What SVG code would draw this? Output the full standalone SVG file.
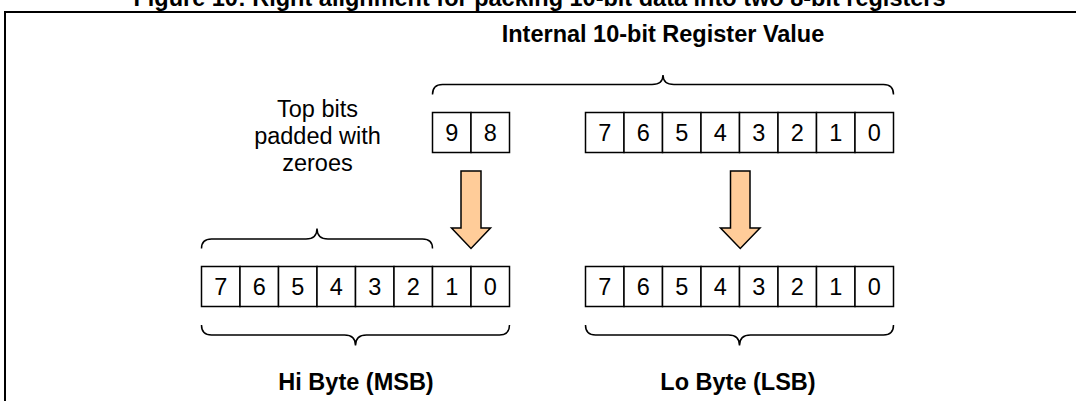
<svg xmlns="http://www.w3.org/2000/svg" width="1076" height="401" viewBox="0 0 1076 401">
<style>
.cell{fill:#fff;stroke:#000;stroke-width:1.5}
.dig{font-family:"Liberation Sans",Arial,sans-serif;font-size:23.5px;text-anchor:middle;fill:#000}
.lbl{font-family:"Liberation Sans",Arial,sans-serif;font-size:23.5px;font-weight:bold;text-anchor:middle;fill:#000}
.txt{font-family:"Liberation Sans",Arial,sans-serif;font-size:23.5px;text-anchor:middle;fill:#000}
.brace{fill:none;stroke:#000;stroke-width:1.5}
.arrow{fill:#FFCC99;stroke:#000;stroke-width:1.5;stroke-linejoin:miter}
.frame{fill:none;stroke:#000;stroke-width:2}
</style>
<rect width="1076" height="401" fill="#fff"/>
<text class="lbl" x="539.5" y="6">Figure 10: Right alignment for packing 10-bit data into two 8-bit registers</text>
<path class="frame" d="M5,401 V12 H1076"/>
<text class="lbl" x="663" y="42">Internal 10-bit Register Value</text>
<g id="note">
<text class="txt" x="317.5" y="116.5">Top bits</text>
<text class="txt" x="317.5" y="143.5">padded with</text>
<text class="txt" x="317.5" y="170.5">zeroes</text>
</g>
<g id="internal-hi">
<rect class="cell" x="432.5" y="112.5" width="38.5" height="40"/>
<rect class="cell" x="471" y="112.5" width="38.5" height="40"/>
<text class="dig" x="451.75" y="140.8">9</text>
<text class="dig" x="490.25" y="140.8">8</text>
</g>
<g id="internal-lo">
<rect class="cell" x="585.5" y="112.5" width="38.5" height="40"/>
<rect class="cell" x="624" y="112.5" width="38.5" height="40"/>
<rect class="cell" x="662.5" y="112.5" width="38.5" height="40"/>
<rect class="cell" x="701" y="112.5" width="38.5" height="40"/>
<rect class="cell" x="739.5" y="112.5" width="38.5" height="40"/>
<rect class="cell" x="778" y="112.5" width="38.5" height="40"/>
<rect class="cell" x="816.5" y="112.5" width="38.5" height="40"/>
<rect class="cell" x="855" y="112.5" width="38.5" height="40"/>
<text class="dig" x="604.75" y="140.8">7</text>
<text class="dig" x="643.25" y="140.8">6</text>
<text class="dig" x="681.75" y="140.8">5</text>
<text class="dig" x="720.25" y="140.8">4</text>
<text class="dig" x="758.75" y="140.8">3</text>
<text class="dig" x="797.25" y="140.8">2</text>
<text class="dig" x="835.75" y="140.8">1</text>
<text class="dig" x="874.25" y="140.8">0</text>
</g>
<g id="hi-byte">
<rect class="cell" x="201.5" y="266.5" width="38.5" height="40"/>
<rect class="cell" x="240" y="266.5" width="38.5" height="40"/>
<rect class="cell" x="278.5" y="266.5" width="38.5" height="40"/>
<rect class="cell" x="317" y="266.5" width="38.5" height="40"/>
<rect class="cell" x="355.5" y="266.5" width="38.5" height="40"/>
<rect class="cell" x="394" y="266.5" width="38.5" height="40"/>
<rect class="cell" x="432.5" y="266.5" width="38.5" height="40"/>
<rect class="cell" x="471" y="266.5" width="38.5" height="40"/>
<text class="dig" x="220.75" y="295">7</text>
<text class="dig" x="259.25" y="295">6</text>
<text class="dig" x="297.75" y="295">5</text>
<text class="dig" x="336.25" y="295">4</text>
<text class="dig" x="374.75" y="295">3</text>
<text class="dig" x="413.25" y="295">2</text>
<text class="dig" x="451.75" y="295">1</text>
<text class="dig" x="490.25" y="295">0</text>
</g>
<g id="lo-byte">
<rect class="cell" x="585.5" y="266.5" width="38.5" height="40"/>
<rect class="cell" x="624" y="266.5" width="38.5" height="40"/>
<rect class="cell" x="662.5" y="266.5" width="38.5" height="40"/>
<rect class="cell" x="701" y="266.5" width="38.5" height="40"/>
<rect class="cell" x="739.5" y="266.5" width="38.5" height="40"/>
<rect class="cell" x="778" y="266.5" width="38.5" height="40"/>
<rect class="cell" x="816.5" y="266.5" width="38.5" height="40"/>
<rect class="cell" x="855" y="266.5" width="38.5" height="40"/>
<text class="dig" x="604.75" y="295">7</text>
<text class="dig" x="643.25" y="295">6</text>
<text class="dig" x="681.75" y="295">5</text>
<text class="dig" x="720.25" y="295">4</text>
<text class="dig" x="758.75" y="295">3</text>
<text class="dig" x="797.25" y="295">2</text>
<text class="dig" x="835.75" y="295">1</text>
<text class="dig" x="874.25" y="295">0</text>
</g>
<g id="braces">
<path class="brace" d="M432.5,94.5 Q432.5,84.5 442.5,84.5 H652 Q663,84.5 663,75 Q663,84.5 674,84.5 H883.5 Q893.5,84.5 893.5,94.5"/>
<path class="brace" d="M201.5,248.5 Q201.5,239 211.5,239 H306 Q317,239 317,228.5 Q317,239 328,239 H422.5 Q432.5,239 432.5,248.5"/>
<path class="brace" d="M201.5,325 Q201.5,335 211.5,335 H344.5 Q355.5,335 355.5,345.5 Q355.5,335 366.5,335 H499.5 Q509.5,335 509.5,325"/>
<path class="brace" d="M585.5,325 Q585.5,335 595.5,335 H728.5 Q739.5,335 739.5,345.5 Q739.5,335 750.5,335 H883.5 Q893.5,335 893.5,325"/>
</g>
<g id="connectors">
<path class="arrow" d="M461,171 H481 V228 H490.5 L471,248.5 L451.5,228 H461 Z"/>
<path class="arrow" d="M730.5,171 H750 V228 H760 L740.25,248.5 L720.5,228 H730.5 Z"/>
</g>
<text class="lbl" x="356" y="390">Hi Byte (MSB)</text>
<text class="lbl" x="738" y="390">Lo Byte (LSB)</text>
</svg>
